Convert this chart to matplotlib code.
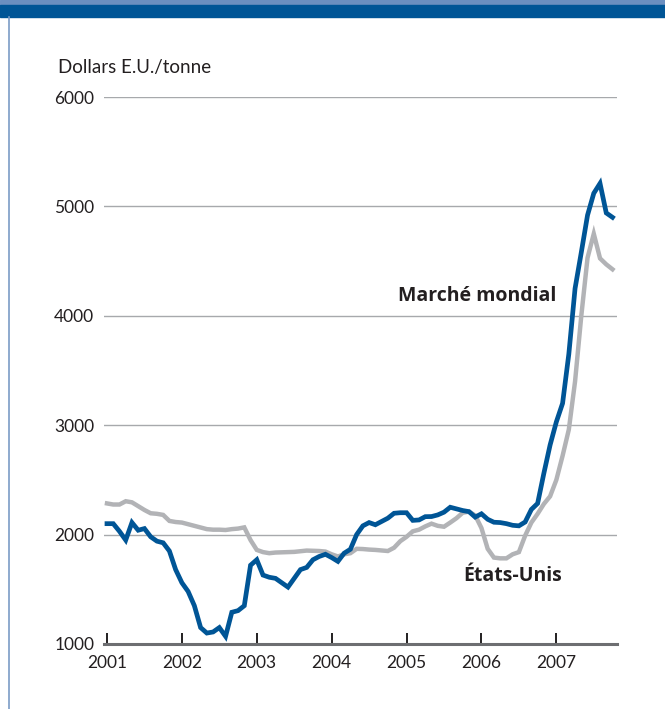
import numpy as np
import matplotlib.pyplot as plt
from matplotlib.patches import Rectangle
from matplotlib.lines import Line2D

# monthly prices, Jan 2001 - Oct 2007 (US$/tonne)
WORLD = [
    2100, 2100, 2030, 1950, 2110, 2040, 2055, 1980, 1940, 1925, 1850, 1680,
    1560, 1480, 1350, 1150, 1100, 1110, 1150, 1070, 1290, 1305, 1350, 1720,
    1770, 1630, 1610, 1600, 1560, 1520, 1600, 1680, 1700, 1770, 1800, 1820,
    1790, 1755, 1830, 1866, 2000, 2080, 2110, 2090, 2120, 2150, 2195, 2200,
    2200, 2130, 2134, 2164, 2165, 2180, 2205, 2250, 2235, 2220, 2210, 2160,
    2190, 2140, 2113, 2110, 2100, 2085, 2080, 2115, 2230, 2285, 2560, 2819,
    3030, 3200, 3650, 4250, 4580, 4920, 5120, 5210, 4940, 4900,
]
US = [
    2285, 2275, 2275, 2305, 2295, 2260, 2225, 2195, 2190, 2180, 2125, 2115,
    2110, 2095, 2080, 2065, 2050, 2045, 2045, 2042, 2050, 2055, 2066, 1950,
    1860, 1840, 1830, 1836, 1838, 1840, 1842, 1848, 1854, 1852, 1850, 1845,
    1820, 1800, 1820, 1830, 1870, 1868, 1863, 1860, 1855, 1850, 1880, 1940,
    1980, 2030, 2045, 2075, 2100, 2080, 2072, 2110, 2150, 2200, 2210, 2175,
    2060, 1870, 1790, 1783, 1783, 1820, 1840, 1990, 2110, 2190, 2280, 2350,
    2500, 2720, 2960, 3400, 4000, 4530, 4750, 4525, 4470, 4425,
]
YEARS = [2001, 2002, 2003, 2004, 2005, 2006, 2007]
YTICKS = [1000, 2000, 3000, 4000, 5000, 6000]

months = YEARS[0] + np.arange(len(WORLD)) / 12.0

BLUE = '#005596'
GREY = '#b2b3b6'
FONT = 'Lato'
BOLD = 'Open Sans'
TXT = '#231f20'

fig = plt.figure(figsize=(6.65, 7.09), dpi=100)

# header band and left rule
fig.patches.append(Rectangle((0, 1 - 5 / 709), 1, 5 / 709, transform=fig.transFigure,
                             color='#6b8fc0', zorder=0))
fig.patches.append(Rectangle((0, 1 - 17 / 709), 1, 12 / 709, transform=fig.transFigure,
                             color='#005596', zorder=0))
fig.lines.append(Line2D([8.5 / 665, 8.5 / 665], [0, 1 - 17 / 709], transform=fig.transFigure,
                        color='#7c9cc6', lw=1.2))

ax = fig.add_axes([104 / 665, 1 - 644 / 709, 513 / 665, 547 / 709])

for v in YTICKS[1:]:
    ax.axhline(v, color='#a7a9ac', lw=1.0, zorder=1)

ax.plot(months, US, color=GREY, lw=3.2, solid_joinstyle='miter', zorder=2)
ax.plot(months, WORLD, color=BLUE, lw=3.4, solid_joinstyle='miter', zorder=3)

ax.set_xlim(2000.96, 2007.81)
ax.set_ylim(1000, 6000)
for s in ['top', 'right', 'left']:
    ax.spines[s].set_visible(False)
ax.spines['bottom'].set_color('#6d6e71')
ax.spines['bottom'].set_linewidth(2.2)

ax.set_xticks(YEARS)
ax.set_xticklabels([str(y) for y in YEARS], fontfamily=FONT, fontsize=12.5, color=TXT)
ax.tick_params(axis='x', direction='in', length=8, width=1.4, color='#231f20', pad=8)
ax.set_yticks(YTICKS)
ax.set_yticklabels([str(v) for v in YTICKS], fontfamily=FONT, fontsize=12.5, color=TXT)
ax.tick_params(axis='y', length=0, pad=7)

fig.text(58 / 665, 1 - 67 / 709, 'Dollars E.U./tonne', fontfamily=FONT,
         fontsize=13.5, color=TXT, va='center', ha='left')

ax.text(2004.885, 4181, 'Marché mondial', fontfamily=BOLD, fontweight='bold',
        fontsize=14, color=TXT, va='center', ha='left')
ax.text(2005.753, 1622, 'États-Unis', fontfamily=BOLD, fontweight='bold',
        fontsize=14, color=TXT, va='center', ha='left')

fig.savefig('out.png', dpi=100)
